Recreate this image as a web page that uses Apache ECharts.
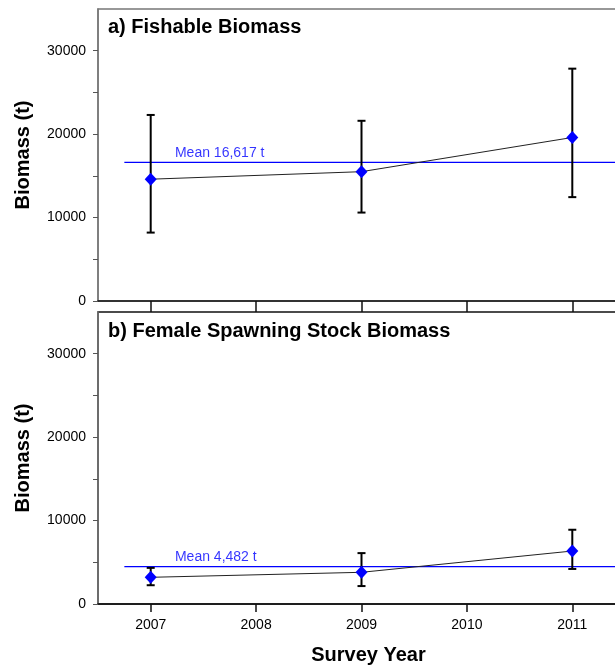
<!DOCTYPE html>
<html>
<head>
<meta charset="utf-8">
<script src="https://cdn.jsdelivr.net/npm/echarts@6/dist/echarts.min.js"></script>
<style>
  html, body { margin: 0; padding: 0; background: #fff; }
  #main { width: 615px; height: 665px; }
</style>
</head>
<body>
<div id="main"></div>
<script>
// survey years and estimates
var years = [2007, 2009, 2011];
var yearTicks = [2007, 2008, 2009, 2010, 2011];

var fishable = [14600, 15500, 19600];
var fishableLow = [8200, 10600, 12450];
var fishableHigh = [22300, 21600, 27850];
var fishableMean = 16617;

var ssb = [3200, 3800, 6350];
var ssbLow = [2250, 2150, 4200];
var ssbHigh = [4330, 6100, 8900];
var ssbMean = 4482;

var yLabels = [0, 10000, 20000, 30000];
var yTicks = [0, 5000, 10000, 15000, 20000, 25000, 30000];

var FONT = "'Liberation Sans', Arial, sans-serif";

function pairs (xs, ys) {
    return xs.map(function (x, i) { return [x, ys[i]] })
}

function bars (xs, lo, hi) {
    return xs.map(function (x, i) { return [x, lo[i], hi[i]] })
}

function plain (v) {
    return String(v)
}

// vertical error bar with caps
function renderBar (params, api) {
    var x = api.value(0)
    var lo = api.coord([x, api.value(1)])
    var hi = api.coord([x, api.value(2)])
    var w = 4
    var st = { stroke: '#000', lineWidth: 2 }
    return {
        type: 'group',
        children: [
            { type: 'line', shape: { x1: lo[0], y1: lo[1], x2: hi[0], y2: hi[1] }, style: st },
            { type: 'line', shape: { x1: lo[0] - w, y1: lo[1], x2: lo[0] + w, y2: lo[1] }, style: st },
            { type: 'line', shape: { x1: hi[0] - w, y1: hi[1], x2: hi[0] + w, y2: hi[1] }, style: st }
        ]
    }
}

function yAxis (idx) {
    return {
        type: 'value',
        gridIndex: idx,
        min: 0,
        max: 35000,
        name: 'Biomass (t)',
        nameLocation: 'middle',
        nameGap: 65,
        nameTextStyle: { fontSize: 20, fontWeight: 'bold', color: '#000', fontFamily: FONT },
        axisLine: { show: true, lineStyle: { color: '#777', width: 1.5 } },
        axisTick: { show: true, length: 5, customValues: yTicks, lineStyle: { color: '#555' } },
        axisLabel: { customValues: yLabels, formatter: plain, margin: 12, fontSize: 14, color: '#000', fontFamily: FONT },
        splitLine: { show: false }
    }
}

function xAxis (idx, bottom) {
    var ax = {
        type: 'value',
        gridIndex: idx,
        min: 2006.5,
        max: 2011.5,
        axisLine: { lineStyle: { color: '#111', width: 1.5 } },
        axisTick: { show: true, length: bottom ? 8 : 11, customValues: yearTicks, lineStyle: { color: '#111', width: 1.5 } },
        axisLabel: { show: bottom, customValues: yearTicks, formatter: plain, margin: 14, fontSize: 14, color: '#000', fontFamily: FONT },
        splitLine: { show: false }
    }
    if (bottom) {
        ax.name = 'Survey Year'
        ax.nameLocation = 'middle'
        ax.nameGap = 41
        ax.nameTextStyle = { fontSize: 20, fontWeight: 'bold', color: '#000', fontFamily: FONT, padding: [0, 0, 0, 14] }
    }
    return ax
}

function panel (idx, vals, lo, hi, mean) {
    return [{
        type: 'custom',
        xAxisIndex: idx,
        yAxisIndex: idx,
        renderItem: renderBar,
        encode: { x: 0, y: [1, 2] },
        data: bars(years, lo, hi),
        z: 2
    }, {
        type: 'line',
        xAxisIndex: idx,
        yAxisIndex: idx,
        data: [[2006.75, mean], [2011.5, mean]],
        symbol: 'none',
        lineStyle: { color: '#0000ff', width: 1.2 },
        z: 1
    }, {
        type: 'line',
        xAxisIndex: idx,
        yAxisIndex: idx,
        data: pairs(years, vals),
        symbol: 'diamond',
        symbolSize: [12, 13],
        itemStyle: { color: '#0000ff' },
        lineStyle: { color: '#222', width: 1 },
        z: 3
    }, {
        type: 'scatter',
        xAxisIndex: idx,
        yAxisIndex: idx,
        data: [[2007.23, mean]],
        symbolSize: 0,
        label: {
            show: true,
            position: [0, -16],
            formatter: 'Mean ' + mean.toLocaleString('en-US') + ' t',
            color: '#0000ff',
            fontSize: 14,
            lineHeight: 14,
            fontFamily: FONT
        },
        z: 4
    }]
}

var myChart = echarts.init(document.getElementById('main'))
myChart.setOption({
    animation: false,
    backgroundColor: '#fff',
    title: [{
        text: 'a) Fishable Biomass',
        left: 108,
        top: 17,
        padding: 0,
        textStyle: { fontSize: 20, fontWeight: 'bold', color: '#000', fontFamily: FONT }
    }, {
        text: 'b) Female Spawning Stock Biomass',
        left: 108,
        top: 321,
        padding: 0,
        textStyle: { fontSize: 20, fontWeight: 'bold', color: '#000', fontFamily: FONT }
    }],
    grid: [
        { left: 98, width: 527, top: 9, height: 292, outerBoundsMode: 'none', containLabel: false, show: true, borderColor: '#777', borderWidth: 1.5 },
        { left: 98, width: 527, top: 312, height: 292, outerBoundsMode: 'none', containLabel: false, show: true, borderColor: '#111', borderWidth: 1.5 }
    ],
    xAxis: [xAxis(0, false), xAxis(1, true)],
    yAxis: [yAxis(0), yAxis(1)],
    series: panel(0, fishable, fishableLow, fishableHigh, fishableMean)
        .concat(panel(1, ssb, ssbLow, ssbHigh, ssbMean))
})
</script>
</body>
</html>
